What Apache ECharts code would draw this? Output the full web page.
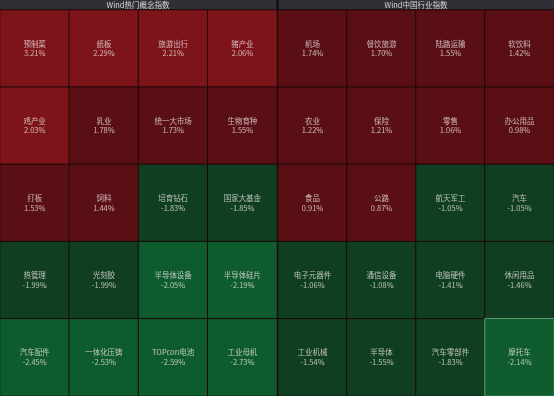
<!DOCTYPE html>
<html><head><meta charset="utf-8">
<script src="https://cdn.jsdelivr.net/npm/echarts@6/dist/echarts.min.js"></script>
<style>html,body{margin:0;padding:0;background:#141414;}#c{width:554px;height:396px;}</style>
</head><body><div id="c"></div>
<script>
const leftTitle = 'Wind热门概念指数';
const rightTitle = 'Wind中国行业指数';
const leftNames = ['预制菜','纸板','旅游出行','猪产业','鸡产业','乳业','统一大市场','生物育种','打板','饲料','培育钻石','国家大基金','热管理','光刻胶','半导体设备','半导体硅片','汽车配件','一体化压铸','TOPcon电池','工业母机'];
const leftValues = [3.21,2.29,2.21,2.06,2.03,1.78,1.73,1.55,1.53,1.44,-1.83,-1.85,-1.99,-1.99,-2.05,-2.19,-2.45,-2.53,-2.59,-2.73];
const rightNames = ['机场','餐饮旅游','陆路运输','软饮料','农业','保险','零售','办公用品','食品','公路','航天军工','汽车','电子元器件','通信设备','电脑硬件','休闲用品','工业机械','半导体','汽车零部件','摩托车'];
const rightValues = [1.74,1.70,1.55,1.42,1.22,1.21,1.06,0.98,0.91,0.87,-1.05,-1.05,-1.06,-1.08,-1.41,-1.46,-1.54,-1.55,-1.83,-2.14];
const highlighted = '摩托车';
const cols = ['c0','c1','c2','c3'];
const rows = ['r0','r1','r2','r3','r4'];

function build(names, values){
  return names.map((n,i)=>{
    const o = {name:n, value:[i%4, Math.floor(i/4), values[i]]};
    if(n===highlighted) o.itemStyle = {borderColor:'#5f9a6e', borderWidth:1};
    return o;
  });
}
const chart = echarts.init(document.getElementById('c'), null, {renderer:'canvas'});
const axisHidden = {axisLine:{show:false},axisTick:{show:false},axisLabel:{show:false},splitLine:{show:false},splitArea:{show:false}};
const lbl = {
  show:true, fontSize:7.5, lineHeight:9.5, fontFamily:'"Noto Sans CJK SC", sans-serif',
  formatter: p => p.name + '\n' + p.value[2].toFixed(2) + '%',
  color:'rgba(235,225,225,0.78)'
};
chart.setOption({
  backgroundColor:'#141414',
  animation:false,
  grid:[
    {left:0, top:10, width:277, bottom:0},
    {left:278, top:10, right:0, bottom:0}
  ],
  xAxis:[
    Object.assign({type:'category', data:cols, gridIndex:0}, axisHidden),
    Object.assign({type:'category', data:cols, gridIndex:1}, axisHidden)
  ],
  yAxis:[
    Object.assign({type:'category', data:rows, gridIndex:0, inverse:true}, axisHidden),
    Object.assign({type:'category', data:rows, gridIndex:1, inverse:true}, axisHidden)
  ],
  visualMap:{
    type:'piecewise', show:false, dimension:2, seriesIndex:[0,1],
    pieces:[
      {gte:2, color:'#7d1419'},
      {gte:0, lt:2, color:'#5a0f14'},
      {gte:-2, lt:0, color:'#0f3e20'},
      {lt:-2, color:'#0e5c2e'}
    ]
  },
  series:[
    {type:'heatmap', xAxisIndex:0, yAxisIndex:0, data:build(leftNames,leftValues),
     itemStyle:{borderColor:'#1c0808', borderWidth:1}, label:lbl, emphasis:{disabled:true}},
    {type:'heatmap', xAxisIndex:1, yAxisIndex:1, data:build(rightNames,rightValues),
     itemStyle:{borderColor:'#1c0808', borderWidth:1}, label:lbl, emphasis:{disabled:true}}
  ],
  graphic:[
    {type:'rect', left:0, top:0, shape:{width:276, height:10}, style:{fill:'#2e3035'}},
    {type:'rect', left:279, top:0, shape:{width:275, height:10}, style:{fill:'#2e3035'}},
    {type:'text', x:138, y:5, style:{text:leftTitle, fill:'#d8d8d8', fontSize:7.5, align:'center', verticalAlign:'middle', fontFamily:'"Noto Sans CJK SC", sans-serif'}},
    {type:'text', x:416, y:5, style:{text:rightTitle, fill:'#d8d8d8', fontSize:7.5, align:'center', verticalAlign:'middle', fontFamily:'"Noto Sans CJK SC", sans-serif'}}
  ]
});
</script></body></html>
